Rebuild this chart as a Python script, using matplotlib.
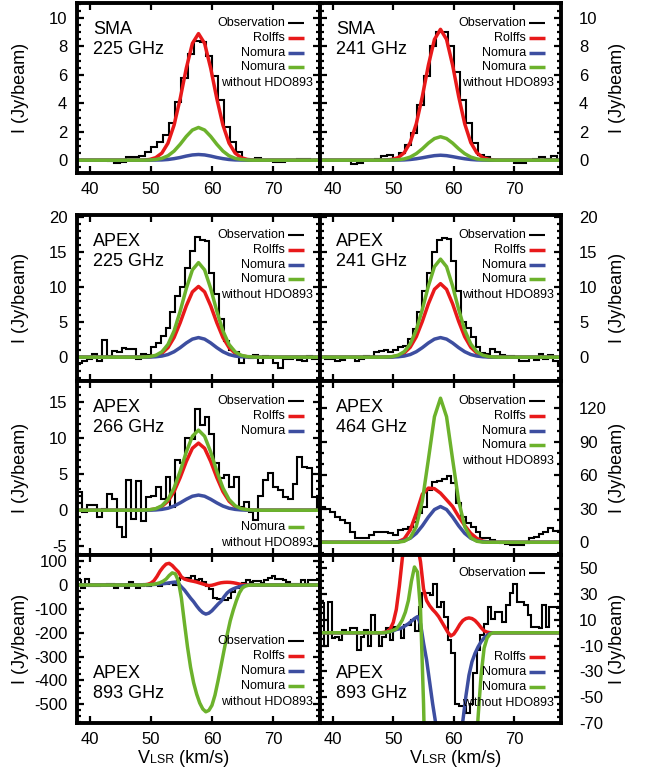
import numpy as np
import matplotlib
matplotlib.use("Agg")
import matplotlib.pyplot as plt
from matplotlib.ticker import MultipleLocator, FixedLocator

plt.rcParams['font.family'] = ['Liberation Sans', 'DejaVu Sans']
plt.rcParams['axes.unicode_minus'] = False

RED = '#e8191a'
BLUE = '#3d4ea0'
GREEN = '#6cb22c'

# ---------------------------------------------------------------- data
# model velocity grids (km/s)
V_MODEL = [38.0, 43.8, 44.8, 45.8, 46.8, 47.8, 48.8, 49.8, 50.8, 51.8, 52.8, 53.8,
           54.8, 55.8, 56.8, 57.8, 58.8, 59.8, 60.8, 61.8, 62.8, 63.8, 64.8, 65.8,
           66.8, 67.8, 68.8, 69.8, 70.8, 71.8, 78.0]
V_FINE = [38.0, 48.0, 48.5, 49.0, 49.5, 50.0, 50.5, 51.0, 51.5, 52.0, 52.5,
          53.0, 53.5, 54.0, 54.5, 55.0, 55.5, 56.0, 56.5, 57.0, 57.5,
          58.0, 58.5, 59.0, 59.5, 60.0, 60.5, 61.0, 61.5, 62.0, 62.5,
          63.0, 63.5, 64.0, 64.5, 65.0, 65.5, 66.0, 66.5, 67.0, 67.5, 68.0, 78.0]

# SMA 225 GHz
SMA225_OBS = [0.0, 0.0, 0.0, 0.0, 0.0, -0.05, -0.2, -0.15, 0.2, 0.25,
              0.3, 0.6, 0.9, 1.3, 1.8, 2.6, 4.1, 5.8, 7.5, 8.4,
              8.3, 7.3, 5.9, 4.2, 2.3, 1.3, 0.6, 0.1, 0.0, 0.15,
              0.0, 0.0, -0.15, -0.1, 0.0, 0.0, 0.1, 0.05, 0.0, 0.0]
SMA225_RED = [0, 0, 0, 0, 0, 0, 0.01, 0.05, 0.18, 0.50, 1.20, 2.47, 4.33, 6.46, 8.21,
              8.90, 8.21, 6.46, 4.33, 2.47, 1.20, 0.50, 0.18, 0.05, 0.01, 0, 0, 0, 0, 0, 0]
SMA225_BLUE = [0, 0, 0, 0, 0, 0, 0.0, 0.0, 0.01, 0.02, 0.05, 0.11, 0.19, 0.29, 0.37,
               0.40, 0.37, 0.29, 0.19, 0.11, 0.05, 0.02, 0.01, 0.0, 0.0, 0, 0, 0, 0, 0, 0]
SMA225_GREEN = [0, 0, 0, 0, 0, 0, 0.0, 0.01, 0.05, 0.13, 0.31, 0.64, 1.12, 1.67, 2.12,
                2.30, 2.12, 1.67, 1.12, 0.64, 0.31, 0.13, 0.05, 0.01, 0.0, 0, 0, 0, 0, 0, 0]

# SMA 241 GHz
SMA241_OBS = [0.0, 0.0, 0.0, 0.0, 0.0, -0.25, -0.2, 0.0, 0.0, 0.1,
              0.3, 0.4, 0.1, 0.5, 1.1, 1.9, 3.9, 5.9, 8.0, 9.0,
              9.0, 8.0, 6.2, 4.2, 2.6, 1.2, 0.4, 0.2, 0.0, 0.0,
              0.0, 0.0, -0.2, -0.2, 0.0, 0.1, 0.2, 0.1, 0.3, 0.0]
SMA241_RED = [0, 0, 0, 0, 0, 0, 0.01, 0.06, 0.18, 0.52, 1.24, 2.56, 4.48, 6.68, 8.49,
              9.20, 8.49, 6.68, 4.48, 2.56, 1.24, 0.52, 0.18, 0.06, 0.01, 0, 0, 0, 0, 0, 0]
SMA241_BLUE = [0, 0, 0, 0, 0, 0, 0.0, 0.0, 0.01, 0.02, 0.05, 0.10, 0.17, 0.25, 0.32,
               0.35, 0.32, 0.25, 0.17, 0.10, 0.05, 0.02, 0.01, 0.0, 0.0, 0, 0, 0, 0, 0, 0]
SMA241_GREEN = [0, 0, 0, 0, 0, 0, 0.0, 0.01, 0.03, 0.09, 0.22, 0.46, 0.80, 1.20, 1.52,
                1.65, 1.52, 1.20, 0.80, 0.46, 0.22, 0.09, 0.03, 0.01, 0.0, 0, 0, 0, 0, 0, 0]

# APEX 225 GHz
APEX225_OBS = [-0.9, -0.6, -0.3, 0.5, -0.6, 2.5, 0.1, 0.9, 0.8, 1.3,
               1.2, 1.1, -0.2, 0.4, 0.3, 1.4, 2.0, 3.0, 4.2, 6.4,
               8.8, 10.0, 12.8, 15.2, 17.2, 16.8, 16.6, 12.0, 9.0, 5.5,
               2.3, 1.0, 0.8, -0.9, 0.1, -0.1, 0.3, -0.9, 0.2, 0.0,
               -0.9, -1.6, -0.2, -0.3, 0.0, -0.4, -0.5, 0.2, -0.3, 0.0]
APEX225_RED = [0, 0, 0, 0, 0, 0, 0.02, 0.06, 0.20, 0.57, 1.36, 2.81, 4.92, 7.33, 9.32,
               10.10, 9.32, 7.33, 4.92, 2.81, 1.36, 0.57, 0.20, 0.06, 0.02, 0, 0, 0, 0, 0, 0]
APEX225_BLUE = [0, 0, 0, 0, 0, 0, 0.0, 0.02, 0.06, 0.16, 0.38, 0.78, 1.36, 2.03, 2.58,
                2.80, 2.58, 2.03, 1.36, 0.78, 0.38, 0.16, 0.06, 0.02, 0.0, 0, 0, 0, 0, 0, 0]
APEX225_GREEN = [0, 0, 0, 0, 0, 0, 0.02, 0.08, 0.27, 0.76, 1.82, 3.75, 6.57, 9.80, 12.46,
                 13.50, 12.46, 9.80, 6.57, 3.75, 1.82, 0.76, 0.27, 0.08, 0.02, 0, 0, 0, 0, 0, 0]

# APEX 241 GHz
APEX241_OBS = [0.0, -0.3, -0.3, -0.5, -0.4, 0.0, 0.0, -0.5, -0.3, 0.1,
               0.0, 0.8, 0.9, 1.0, 0.7, 1.0, 1.4, 1.6, 2.6, 4.0,
               6.5, 9.5, 12.0, 15.0, 16.8, 17.0, 16.9, 13.8, 9.5, 5.0,
               4.2, 2.9, 1.5, 0.6, 0.4, 1.1, 0.8, 0.3, 0.2, 0.1,
               0.0, -0.5, -0.6, 0.0, -0.4, 0.4, -0.3, 0.3, -0.6, -1.2]
APEX241_RED = [0, 0, 0, 0, 0, 0, 0.02, 0.06, 0.21, 0.59, 1.42, 2.92, 5.11, 7.62, 9.69,
               10.50, 9.69, 7.62, 5.11, 2.92, 1.42, 0.59, 0.21, 0.06, 0.02, 0, 0, 0, 0, 0, 0]
APEX241_BLUE = [0, 0, 0, 0, 0, 0, 0.0, 0.02, 0.06, 0.16, 0.38, 0.78, 1.36, 2.03, 2.58,
                2.80, 2.58, 2.03, 1.36, 0.78, 0.38, 0.16, 0.06, 0.02, 0.0, 0, 0, 0, 0, 0, 0]
APEX241_GREEN = [0, 0, 0, 0, 0, 0, 0.02, 0.08, 0.28, 0.78, 1.89, 3.89, 6.82, 10.16, 12.92,
                 14.00, 12.92, 10.16, 6.82, 3.89, 1.89, 0.78, 0.28, 0.08, 0.02, 0, 0, 0, 0, 0, 0]

# APEX 266 GHz
APEX266_OBS = [2.5, -0.3, 0.7, 0.7, -0.9, 0.2, 2.2, 1.5, -2.3, -3.7,
               4.2, -1.2, 4.0, -1.5, 1.8, 2.0, 3.2, 1.6, 4.6, 0.5,
               7.0, 6.5, 10.0, 9.9, 14.0, 11.8, 12.9, 10.5, 6.5, 4.4,
               4.9, 3.2, 4.6, 0.5, 1.2, -0.3, -1.4, 2.0, 4.2, 5.1,
               3.2, 2.8, 1.9, 1.6, 3.7, 7.4, 6.0, 5.8, 1.9, 0.2]
APEX266_RED = [0, 0, 0, 0, 0, 0, 0.01, 0.06, 0.18, 0.52, 1.26, 2.59, 4.53, 6.75, 8.58,
               9.30, 8.58, 6.75, 4.53, 2.59, 1.26, 0.52, 0.18, 0.06, 0.01, 0, 0, 0, 0, 0, 0]
APEX266_BLUE = [0, 0, 0, 0, 0, 0, 0.0, 0.01, 0.04, 0.12, 0.28, 0.58, 1.02, 1.52, 1.94,
                2.10, 1.94, 1.52, 1.02, 0.58, 0.28, 0.12, 0.04, 0.01, 0.0, 0, 0, 0, 0, 0, 0]
APEX266_GREEN = [0, 0, 0, 0, 0, 0, 0.02, 0.07, 0.22, 0.62, 1.50, 3.09, 5.41, 8.06, 10.25,
                 11.10, 10.25, 8.06, 5.41, 3.09, 1.50, 0.62, 0.22, 0.07, 0.02, 0, 0, 0, 0, 0, 0]

# APEX 464 GHz
APEX464_OBS = [32, 30, 27, 23, 20, 17, 9.5, 4, 3.6, 3.6,
               6.6, 9.5, 9.5, 9.0, 8.0, 6.6, 11, 12, 14, 18.5,
               26, 32, 47, 54, 55, 57, 59, 53, 35, 23,
               17, 14, 9.5, 3.6, 3.6, 2, 0.5, -1, -1.5, -2.4,
               -2.4, -2.4, -1, 3.6, 5, 7, 9.5, 12.5, 10, 9.5]
APEX464_RED = [0, 0, 0, 0, 0, 0, 0.0, 0.0, 0.5, 3.0, 11.0, 26.0, 43.0, 48.5, 48.0,
               44.0, 38.0, 32.0, 23.0, 15.0, 8.0, 3.5, 1.0, 0.2, 0.0, 0, 0, 0, 0, 0, 0]
APEX464_BLUE = [0, 0, 0, 0, 0, 0, 0.0, 0.13, 0.45, 1.4, 3.6, 8.0, 14.7, 22.6, 29.3,
                32.0, 29.3, 22.6, 14.7, 8.0, 3.6, 1.4, 0.45, 0.13, 0.0, 0, 0, 0, 0, 0, 0]
APEX464_GREEN = [0, 0, 0, 0, 0, 0, 0.0, 0.0, 0.1, 0.9, 4.0, 14.1, 37.0, 74.2, 112.4,
                 129.0, 112.4, 74.2, 37.0, 14.1, 4.0, 0.9, 0.1, 0.0, 0.0, 0, 0, 0, 0, 0, 0]

# APEX 893 GHz (same data shown at two scales)
APEX893_OBS = [22.8, -10.6, 24, -4, -3, -5.5, 2, 0, 3.5, 3.5,
               -13, -3, 2, -10.6, 14, 0, -10.6, -3, 3.5, -5.5,
               4.8, 3.5, -4, 6, 6, 10, 1, 20, 30.6, 30.6,
               29, 38, 20, 24, 12.5, -5.5, -16, -55, -57, -57,
               -62, -55, -31, -13, -2, 7, 20, 11, 16, 16,
               8.7, 21.5, 30.6, 38, 24, 24, 21.5, 14, 4.8, 4.8,
               3.5, 21.5, 4.8, 20, 20, 19, 19]
APEX893_RED = [0, 0, 0.3, 1, 3, 8, 18, 36, 58, 75, 88,
               91, 82, 68, 55, 34, 25, 21, 18, 15.5, 12.5,
               8.5, 4.5, 0.5, -2.5, -1, 2.5, 6.5, 9.5, 11, 11.5,
               11, 9.5, 7, 4, 1.5, 0.5, 0, 0, 0, 0, 0, 0]
APEX893_BLUE = [0, 0, 0, 0.5, 1, 1.5, 2.5, 3, 4, 5.5, 7,
                9, 11, 12.5, 7, -8, -21, -38, -55, -70, -88,
                -104, -116, -122, -118, -108, -94, -80, -68, -49, -33,
                -22.5, -16, -11, -7, -4, -2, -0.5, 0, 0, 0, 0, 0]
APEX893_GREEN = [0, 0, 0, 0.5, 1, 2, 3, 6, 10, 16, 25,
                 40, 51, 47, 18, -55, -160, -260, -345, -410, -458,
                 -495, -520, -532, -526, -505, -462, -402, -338, -272, -208,
                 -150, -105, -66, -33, -12, -4, -1, 0, 0, 0, 0, 0]

# channel edges of the observed spectra (km/s)
EDGES_SMA = np.linspace(38.0, 78.0, 41)
EDGES_APEX = np.linspace(38.0, 78.0, 51)
EDGES_893 = np.linspace(38.0, 78.2, 68)

# ---------------------------------------------------------------- layout
W, H = 651.0, 771.0
PT = 0.72  # points per pixel at 100 dpi
COLS = [(77, 320), (320, 561)]
ROWS = [(3, 173), (215, 381), (381, 555), (555, 723)]
MODEL_LW = 2.5

fig = plt.figure(figsize=(W / 100, H / 100), dpi=100)

TOP = [-20, -35, -49.5, -64, -80]
BOT = [82, 67, 52, 37, 21]
ALL_TOP = [('obs', 't', TOP[0]), ('red', 't', TOP[1]), ('blue', 't', TOP[2]),
           ('green', 't', TOP[3]), ('without', 't', TOP[4])]

PANELS = [
    dict(r=0, c=0, edges=EDGES_SMA, obs=SMA225_OBS, v=V_MODEL, red=SMA225_RED, blue=SMA225_BLUE,
         green=SMA225_GREEN, ylim=(-0.9, 11.05), major=2, minor=0.5,
         label=('SMA', '225 GHz'), lab_anchor='t', legend=ALL_TOP),
    dict(r=0, c=1, edges=EDGES_SMA, obs=SMA241_OBS, v=V_MODEL, red=SMA241_RED, blue=SMA241_BLUE,
         green=SMA241_GREEN, ylim=(-0.9, 11.05), major=2, minor=0.5,
         label=('SMA', '241 GHz'), lab_anchor='t', legend=ALL_TOP),
    dict(r=1, c=0, edges=EDGES_APEX, obs=APEX225_OBS, v=V_MODEL, red=APEX225_RED, blue=APEX225_BLUE,
         green=APEX225_GREEN, ylim=(-3.4, 20.3), major=5, minor=1,
         label=('APEX', '225 GHz'), lab_anchor='t', legend=ALL_TOP),
    dict(r=1, c=1, edges=EDGES_APEX, obs=APEX241_OBS, v=V_MODEL, red=APEX241_RED, blue=APEX241_BLUE,
         green=APEX241_GREEN, ylim=(-3.4, 20.3), major=5, minor=1,
         label=('APEX', '241 GHz'), lab_anchor='t', legend=ALL_TOP),
    dict(r=2, c=0, edges=EDGES_APEX, obs=APEX266_OBS, v=V_MODEL, red=APEX266_RED, blue=APEX266_BLUE,
         green=APEX266_GREEN, ylim=(-6.2, 17.9), major=5, minor=1,
         label=('APEX', '266 GHz'), lab_anchor='t',
         legend=[('obs', 't', TOP[0]), ('red', 't', TOP[1]), ('blue', 't', TOP[2]),
                 ('green', 'b', 28), ('without', 'b', 12)]),
    dict(r=2, c=1, edges=EDGES_APEX, obs=APEX464_OBS, v=V_MODEL, red=APEX464_RED, blue=APEX464_BLUE,
         green=APEX464_GREEN, ylim=(-11.4, 144.4), major=30, minor=10,
         label=('APEX', '464 GHz'), lab_anchor='t', legend=ALL_TOP),
    dict(r=3, c=0, edges=EDGES_893, obs=APEX893_OBS, v=V_FINE, red=APEX893_RED, blue=APEX893_BLUE,
         green=APEX893_GREEN, ylim=(-579, 126), major=100, minor=25,
         label=('APEX', '893 GHz'), lab_anchor='b',
         legend=[('obs', 'b', BOT[0]), ('red', 'b', BOT[1]), ('blue', 'b', BOT[2]),
                 ('green', 'b', BOT[3]), ('without', 'b', BOT[4])]),
    dict(r=3, c=1, edges=EDGES_893, obs=APEX893_OBS, v=V_FINE, red=APEX893_RED, blue=APEX893_BLUE,
         green=APEX893_GREEN, ylim=(-70, 60.3), major=[-70, -50, -30, -10, 10, 30, 50], minor=5,
         label=('APEX', '893 GHz'), lab_anchor='b',
         legend=[('obs', 't', -18), ('red', 'b', 66), ('blue', 'b', 51),
                 ('green', 'b', 36), ('without', 'b', 20)]),
]

LEG_LABEL = {'obs': 'Observation', 'red': 'Rolffs', 'blue': 'Nomura', 'green': 'Nomura'}
LEG_COLOR = {'obs': 'black', 'red': RED, 'blue': BLUE, 'green': GREEN}
LEG_LW = {'obs': 1.5, 'red': MODEL_LW, 'blue': MODEL_LW, 'green': MODEL_LW}


def draw_legend(ax, entries, axw, axh):
    for kind, anchor, dy in entries:
        yref = 1 if anchor == 't' else 0
        fy = (1 + dy / axh) if anchor == 't' else dy / axh
        if kind == 'without':
            ax.annotate('without HDO893', xy=(1, yref), xycoords='axes fraction',
                        xytext=(-7 * PT, dy * PT), textcoords='offset points',
                        ha='right', va='center', fontsize=9, zorder=5)
            continue
        ax.annotate(LEG_LABEL[kind], xy=(1, yref), xycoords='axes fraction',
                    xytext=(-35 * PT, dy * PT), textcoords='offset points',
                    ha='right', va='center', fontsize=9, zorder=5)
        ax.plot([1 - 32 / axw, 1 - 16 / axw], [fy, fy], transform=ax.transAxes,
                color=LEG_COLOR[kind], lw=LEG_LW[kind], clip_on=False,
                solid_capstyle='butt', zorder=5)


for p in PANELS:
    x0, x1 = COLS[p['c']]
    y0, y1 = ROWS[p['r']]
    axw, axh = x1 - x0, y1 - y0
    ax = fig.add_axes([x0 / W, 1 - y1 / H, axw / W, axh / H])

    ax.stairs(p['obs'], p['edges'], baseline=None, color='black', lw=1.5, zorder=2)
    ax.plot(p['v'], p['red'], color=RED, lw=MODEL_LW, zorder=3)
    ax.plot(p['v'], p['blue'], color=BLUE, lw=MODEL_LW, zorder=3)
    ax.plot(p['v'], p['green'], color=GREEN, lw=MODEL_LW, zorder=3)

    ax.set_xlim(37.9, 77.7)
    ax.set_ylim(*p['ylim'])
    ax.xaxis.set_major_locator(MultipleLocator(10))
    if isinstance(p['major'], list):
        ax.yaxis.set_major_locator(FixedLocator(p['major']))
    else:
        ax.yaxis.set_major_locator(MultipleLocator(p['major']))
    ax.yaxis.set_minor_locator(MultipleLocator(p['minor']))
    for s in ax.spines.values():
        s.set_linewidth(2.8)
        s.set_zorder(6)
    ax.tick_params(which='both', direction='in', top=True, bottom=True,
                   left=True, right=True, width=1.6, colors='black')
    ax.tick_params(which='major', length=5)
    ax.tick_params(which='minor', length=2.6)
    left = p['c'] == 0
    ax.tick_params(axis='y', labelsize=12, labelleft=left, labelright=not left,
                   pad=7 if left else 13)
    ax.tick_params(axis='x', labelsize=12, labelbottom=p['r'] in (0, 3), pad=6.5)

    # panel label
    l1, l2 = p['label']
    if p['lab_anchor'] == 't':
        offs, yref = (-27, -46), 1
    else:
        offs, yref = (50, 30), 0
    for txt, dy in zip((l1, l2), offs):
        ax.annotate(txt, xy=(0, yref), xycoords='axes fraction',
                    xytext=(16 * PT, dy * PT), textcoords='offset points',
                    ha='left', va='center', fontsize=13, zorder=5)

    draw_legend(ax, p['legend'], axw, axh)

    # y label
    yc = 1 - (y0 + y1) / 2 / H
    xc = 21 / W if left else 617 / W
    fig.text(xc, yc, 'I (Jy/beam)', rotation=90, ha='center', va='center', fontsize=13)

    # x label on the bottom row
    if p['r'] == 3:
        xs = 138 if left else 410
        yb = 1 - 763 / H
        t1 = ax.annotate('V', xy=(xs / W, yb), xycoords='figure fraction',
                         ha='left', va='baseline', fontsize=13, annotation_clip=False)
        t2 = ax.annotate('LSR', xy=(1, yb), xycoords=(t1, 'figure fraction'),
                         ha='left', va='baseline', fontsize=9, annotation_clip=False)
        ax.annotate(' (km/s)', xy=(1, yb), xycoords=(t2, 'figure fraction'),
                    ha='left', va='baseline', fontsize=13, annotation_clip=False)

fig.savefig('out.png', dpi=100)
